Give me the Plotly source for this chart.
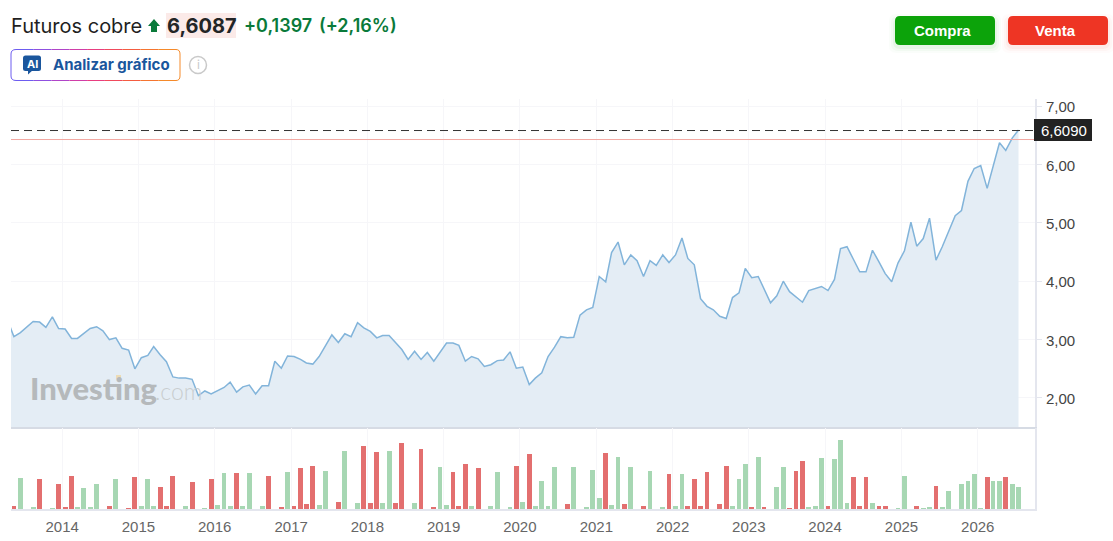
import pandas as pd
import plotly.graph_objects as go
from plotly.subplots import make_subplots

W, H = 1113, 541
CHART_NUDGE = 1  # the two panels sit a pixel low

# monthly closes, Apr 2013 to Jul 2026
price = [
    3.33, 3.05, 3.12, 3.21, 3.31, 3.30, 3.21, 3.39, 3.19,
    3.18, 3.02, 3.02, 3.11, 3.19, 3.22, 3.15, 3.00, 3.03, 2.85, 2.82, 2.50,
    2.69, 2.73, 2.88, 2.74, 2.62, 2.36, 2.34, 2.34, 2.32, 2.04, 2.12, 2.07,
    2.12, 2.18, 2.27, 2.10, 2.19, 2.22, 2.07, 2.21, 2.21, 2.63, 2.51, 2.72,
    2.71, 2.66, 2.60, 2.58, 2.71, 2.90, 3.08, 2.95, 3.10, 3.05, 3.29, 3.20,
    3.14, 3.03, 3.07, 3.07, 2.95, 2.83, 2.66, 2.80, 2.66, 2.78, 2.63, 2.78,
    2.94, 2.94, 2.90, 2.63, 2.71, 2.67, 2.54, 2.57, 2.64, 2.65, 2.79, 2.51,
    2.53, 2.23, 2.34, 2.43, 2.71, 2.87, 3.05, 3.03, 3.04, 3.42, 3.51, 3.55,
    4.08, 3.99, 4.49, 4.67, 4.28, 4.45, 4.35, 4.08, 4.35, 4.27, 4.45, 4.32,
    4.45, 4.74, 4.39, 4.28, 3.70, 3.57, 3.51, 3.40, 3.36, 3.72, 3.80, 4.22,
    4.06, 4.08, 3.86, 3.63, 3.75, 4.00, 3.82, 3.73, 3.64, 3.84, 3.88, 3.91,
    3.84, 4.03, 4.56, 4.59, 4.38, 4.16, 4.16, 4.53, 4.33, 4.13, 3.99, 4.31,
    4.52, 5.01, 4.60, 4.73, 5.08, 4.36, 4.59, 4.85, 5.12, 5.21, 5.71, 5.93,
    5.98, 5.59, 5.95, 6.37, 6.24, 6.45, 6.59,
]

# volume bars, same months (only relative height can be read)
volume = [
    0, 10, 92, 0, 6, 90, 0, 2, 74,
    6, 100, 6, 63, 6, 74, 0, 10, 90, 0, 3, 96,
    9, 90, 9, 66, 9, 100, 0, 9, 81, 0, 2, 89,
    13, 107, 9, 107, 9, 107, 0, 9, 100, 0, 5, 110,
    10, 122, 14, 130, 13, 115, 0, 21, 175, 0, 18, 190,
    18, 171, 18, 175, 18, 198, 0, 18, 179, 0, 5, 126,
    13, 111, 9, 134, 9, 122, 0, 9, 111, 0, 5, 130,
    21, 164, 9, 85, 9, 126, 0, 14, 126, 0, 5, 118,
    33, 168, 13, 156, 14, 126, 0, 9, 115, 0, 5, 104,
    9, 104, 9, 89, 9, 111, 0, 14, 130, 9, 89, 134,
    5, 156, 5, 0, 66, 126, 2, 115, 145, 5, 9, 152,
    9, 149, 208, 18, 96, 9, 96, 18, 9, 9, 0, 2,
    100, 0, 9, 2, 5, 70, 5, 55, 0, 74, 85, 104,
    2, 96, 85, 85, 96, 74, 66,
]
# g = up month, r = down month
volume_side = list(
    "grgggrggr"
    "rrgggggrggrr"
    "gggrrrggrggr"
    "gggrggggrgrg"
    "rrrrgggrgggr"
    "rrggrrggrgrg"
    "grrrgrgggggr"
    "grgggggrgggg"
    "grggrggrgggr"
    "ggrrrrgrrggg"
    "rgrgggrrrggg"
    "rgggrrrgrrgg"
    "ggrggrgggggg"
    "grggrgg"
)

price_ticks = [2, 3, 4, 5, 6, 7]
last_price = 6.58
prev_close = 6.426

months = pd.date_range("2013-04-01", "2026-07-01", freq="MS") + pd.Timedelta(days=14)
GREEN_BAR, RED_BAR = "#a7d7b3", "#e36f6f"
bar_colors = [GREEN_BAR if s == "g" else RED_BAR for s in volume_side]


def px(x):
    return x / W


def py(y):
    return 1 - y / H


def cy(y):
    return 1 - (y - CHART_NUDGE) / H


def rrect(x0, y0, x1, y1, r):
    return (
        f"M{px(x0 + r)},{py(y0)} L{px(x1 - r)},{py(y0)} Q{px(x1)},{py(y0)} {px(x1)},{py(y0 + r)} "
        f"L{px(x1)},{py(y1 - r)} Q{px(x1)},{py(y1)} {px(x1 - r)},{py(y1)} "
        f"L{px(x0 + r)},{py(y1)} Q{px(x0)},{py(y1)} {px(x0)},{py(y1 - r)} "
        f"L{px(x0)},{py(y0 + r)} Q{px(x0)},{py(y0)} {px(x0 + r)},{py(y0)} Z"
    )


def paper_shape(path, fill=None, line=None, width=0):
    return dict(type="path", xref="paper", yref="paper", path=path,
                fillcolor=fill or "rgba(0,0,0,0)", line=dict(color=line or "rgba(0,0,0,0)", width=width))


def label(text, x, y, size, color, anchor="left", family="Inter", weight=400):
    fig.add_annotation(text=text, x=px(x), y=py(y), xref="paper", yref="paper", showarrow=False,
                       xanchor=anchor, yanchor="middle", borderpad=0, borderwidth=0,
                       font=dict(size=size, color=color, family=family, weight=weight))


fig = make_subplots(rows=2, cols=1, shared_xaxes=True, vertical_spacing=0)

fig.add_trace(go.Scatter(x=months, y=price, mode="lines", fill="tozeroy", fillcolor="#e4edf5",
                         line=dict(color="#82b4da", width=1.5), hoverinfo="skip"), row=1, col=1)
fig.add_trace(go.Bar(x=months, y=volume, width=2.0e9, marker=dict(color=bar_colors, line=dict(width=0)),
                     hoverinfo="skip"), row=2, col=1)

grid = "#f6f6f9"
axis_line = "#e4e6ee"
x_range = ["2013-05-01", "2026-10-02"]
fig.update_xaxes(range=x_range, type="date", dtick="M12", tick0="2014-01-01", tickformat="%Y",
                 showgrid=True, gridcolor=grid, gridwidth=1, zeroline=False,
                 tickfont=dict(family="Liberation Sans", size=15, color="#666666"))
fig.update_xaxes(domain=[px(11), px(1035)], row=1, col=1, showline=True, linecolor="#d6dbe4", linewidth=2)
fig.update_xaxes(domain=[px(11), px(1035)], row=2, col=1, showline=True, linecolor=axis_line, linewidth=2,
                 ticks="", ticklen=0, ticklabelstandoff=3)
fig.update_yaxes(row=1, col=1, domain=[cy(428), cy(100)], range=[1.503, 7.12], side="right",
                 tickvals=price_ticks, tickformat=".2f", showgrid=True, gridcolor=grid, zeroline=False,
                 showline=True, linecolor=axis_line, linewidth=2, ticks="outside", ticklen=5, tickcolor=axis_line,
                 tickfont=dict(family="Liberation Sans", size=15, color="#444444"),
                 ticklabelstandoff=1, ticklabelshift=1)
fig.update_yaxes(row=2, col=1, domain=[cy(510), cy(429)], range=[0, 243], side="right", showticklabels=False,
                 showgrid=False, zeroline=False, showline=True, linecolor=axis_line, linewidth=2)

shapes = [
    # price lines
    dict(type="line", xref="x domain", yref="y", x0=0, x1=1, y0=prev_close, y1=prev_close,
         line=dict(color="#f2a8a2", width=1)),
    dict(type="line", xref="x domain", yref="y", x0=0, x1=1, y0=last_price, y1=last_price,
         line=dict(color="#333333", width=1, dash="8px,5px")),
    # last price flag
    dict(type="rect", xref="paper", yref="paper", x0=px(1034), x1=px(1092), y0=py(141), y1=py(119),
         fillcolor="#222222", line=dict(width=0)),
    # header value background
    dict(type="rect", xref="paper", yref="paper", x0=px(166), x1=px(236), y0=py(38), y1=py(13),
         fillcolor="#fbeae8", line=dict(width=0)),
    # up arrow
    paper_shape(f"M{px(154)},{py(19)} L{px(160)},{py(26)} L{px(157)},{py(26)} L{px(157)},{py(32)} "
                f"L{px(151)},{py(32)} L{px(151)},{py(26)} L{px(148)},{py(26)} Z", fill="#0a7a3a"),
]

# soft button shadows, then the buttons
for grow, alpha in [(6, 0.02), (4, 0.03), (2, 0.05)]:
    shapes.append(paper_shape(rrect(895 - grow, 16 - grow + 4, 995 + grow, 45 + grow + 2, 7),
                              fill=f"rgba(12,163,10,{alpha})"))
    shapes.append(paper_shape(rrect(1008 - grow, 16 - grow + 4, 1108 + grow, 45 + grow + 2, 7),
                              fill=f"rgba(238,53,36,{alpha})"))
shapes.append(paper_shape(rrect(895, 16, 995, 45, 5), fill="#0ca30a"))
shapes.append(paper_shape(rrect(1008, 16, 1108, 45, 5), fill="#ee3524"))

# AI button border, purple to orange
border_colors = ["#6d5cf0", "#8f50e0", "#b045c8", "#d03ea8", "#e83e80", "#f04a5c", "#f45c40", "#f57530", "#f58a2a"]
step = (176 - 16) / len(border_colors)
for i, c in enumerate(border_colors):
    xa, xb = 16 + i * step, 16 + (i + 1) * step
    shapes.append(dict(type="line", xref="paper", yref="paper", x0=px(xa), x1=px(xb), y0=py(49.5), y1=py(49.5),
                       line=dict(color=c, width=1)))
    shapes.append(dict(type="line", xref="paper", yref="paper", x0=px(xa), x1=px(xb), y0=py(80.5), y1=py(80.5),
                       line=dict(color=c, width=1)))
shapes.append(paper_shape(f"M{px(16)},{py(49.5)} Q{px(11)},{py(49.5)} {px(11)},{py(54)} L{px(11)},{py(76)} "
                          f"Q{px(11)},{py(80.5)} {px(16)},{py(80.5)}", line="#6d5cf0", width=1))
shapes.append(paper_shape(f"M{px(176)},{py(49.5)} Q{px(180)},{py(49.5)} {px(180)},{py(54)} L{px(180)},{py(76)} "
                          f"Q{px(180)},{py(80.5)} {px(176)},{py(80.5)}", line="#f58a2a", width=1))

# AI icon and info circle
shapes.append(paper_shape(rrect(23, 55.5, 41, 71, 2.5), fill="#1a569d"))
shapes.append(paper_shape(f"M{px(28)},{py(70)} L{px(33)},{py(70)} L{px(28)},{py(74.5)} Z", fill="#1a569d"))
shapes.append(dict(type="circle", xref="paper", yref="paper", x0=px(189.5), x1=px(206.5), y0=py(73.5), y1=py(56.5),
                   line=dict(color="#c9c9c9", width=1.5), fillcolor="#ffffff"))
# tan dot on the watermark i
shapes.append(dict(type="rect", xref="paper", yref="paper", x0=px(116), x1=px(121), y0=py(379), y1=py(375),
                   fillcolor="#ecdcb6", line=dict(width=0), layer="above"))

fig.update_layout(
    width=W, height=H, autosize=False, margin=dict(l=0, r=0, t=0, b=0),
    paper_bgcolor="#ffffff", plot_bgcolor="#ffffff", showlegend=False, separators=",.",
    shapes=shapes, bargap=0,
)

label("Futuros cobre", 11, 26, 20, "#1f1f1f")
label("6,6087", 167, 26, 20, "#232526", weight=700)
label("+0,1397", 244, 26, 18, "#0a7a3a", weight=600)
label("(+2,16%)", 319, 26, 18, "#0a7a3a", weight=600)
label("Analizar gráfico", 53, 64.5, 15, "#1a569d", weight=700)
label("AI", 32, 63.5, 11, "#ffffff", anchor="center", weight=700)
label("i", 198, 65, 12, "#c9c9c9", anchor="center")
label("Compra", 942.7, 30.5, 15, "#ffffff", anchor="center", family="Liberation Sans", weight=700)
label("Venta", 1055, 30.5, 15, "#ffffff", anchor="center", family="Liberation Sans", weight=700)
label("6,6090", 1064, 130.5, 15, "#ffffff", anchor="center", family="Liberation Sans")
label("Investing", 30, 388, 31, "#b5b9bb", family="Lato", weight=900)
label(".com", 155, 391, 23, "#c9cdcf", family="Lato", weight=300)

fig.write_html("out.html", config={"displayModeBar": False}, post_script="document.body.style.margin='0';")
